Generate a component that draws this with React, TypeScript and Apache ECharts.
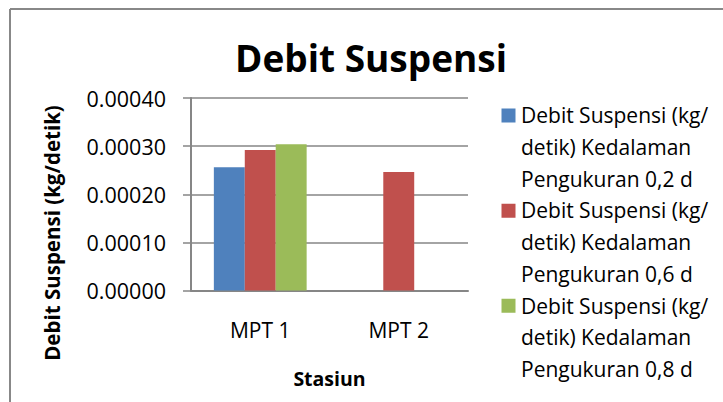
import React, { useEffect, useRef } from "react";
import * as echarts from "echarts";

const categories = ["MPT 1", "MPT 2"];
const seriesNames = [
  "Debit Suspensi (kg/detik) Kedalaman Pengukuran 0,2 d",
  "Debit Suspensi (kg/detik) Kedalaman Pengukuran 0,6 d",
  "Debit Suspensi (kg/detik) Kedalaman Pengukuran 0,8 d",
];
const legendLabels = [
  "Debit Suspensi (kg/\ndetik) Kedalaman\nPengukuran 0,2 d",
  "Debit Suspensi (kg/\ndetik) Kedalaman\nPengukuran 0,6 d",
  "Debit Suspensi (kg/\ndetik) Kedalaman\nPengukuran 0,8 d",
];
const values02 = [0.000256, null];
const values06 = [0.000292, 0.000246];
const values08 = [0.000304, null];
const seriesValues = [values02, values06, values08];
const colors = ["#4F81BD", "#C0504D", "#9BBB59"];
const yTicks = { min: 0, max: 0.0004, interval: 0.0001 };

const FONT = "Open Sans";

export default function App() {
  const ref = useRef<HTMLDivElement>(null);
  useEffect(() => {
    if (!ref.current) return;
    const chart = echarts.init(ref.current, null, { renderer: "svg" });
    const iconPath =
      "path://M0,0h0.01v0.01h-0.01z M0.5,9h14v14h-14z M0,94.99h0.01v0.01h-0.01z M14.99,0h0.01v0.01h-0.01z";
    chart.setOption({
      animation: false,
      textStyle: { fontFamily: FONT },
      grid: { left: 191, right: 255, top: 98, bottom: 111.5, containLabel: false },
      graphic: [
        { type: "line", shape: { x1: 10, y1: 9, x2: 723, y2: 9 }, style: { stroke: "#888888", lineWidth: 2 } },
        { type: "line", shape: { x1: 10, y1: 9, x2: 10, y2: 402 }, style: { stroke: "#888888", lineWidth: 2 } },
        {
          type: "text",
          x: 371,
          y: 57,
          style: {
            text: "Debit Suspensi",
            align: "center",
            verticalAlign: "middle",
            fontFamily: FONT,
            fontWeight: "bold",
            fontSize: 37,
            fill: "#000",
          },
        },
        {
          type: "text",
          x: 52,
          y: 233,
          rotation: Math.PI / 2,
          style: {
            text: "Debit Suspensi (kg/detik)",
            align: "center",
            verticalAlign: "middle",
            fontFamily: FONT,
            fontWeight: "bold",
            fontSize: 20.5,
            fill: "#000",
          },
        },
      ],
      legend: {
        orient: "vertical",
        left: 501,
        top: 99.5,
        padding: 0,
        itemGap: 0,
        itemWidth: 15,
        itemHeight: 95,
        icon: iconPath,
        selectedMode: false,
        data: seriesNames,
        formatter: (name: string) => legendLabels[seriesNames.indexOf(name)],
        textStyle: { fontFamily: FONT, fontSize: 21, lineHeight: 31.7, color: "#000" },
      },
      xAxis: {
        type: "category",
        data: categories,
        name: "Stasiun",
        nameLocation: "middle",
        nameGap: 78,
        nameTextStyle: { fontFamily: FONT, fontWeight: "bold", fontSize: 19.5, color: "#000" },
        axisLine: { lineStyle: { color: "#868686", width: 2 } },
        axisTick: { show: false },
        axisLabel: { margin: 29, fontFamily: FONT, fontSize: 21, color: "#000" },
      },
      yAxis: {
        type: "value",
        min: yTicks.min,
        max: yTicks.max,
        interval: yTicks.interval,
        axisLine: { show: true, lineStyle: { color: "#868686", width: 2 } },
        axisTick: { show: true, length: 8, lineStyle: { color: "#868686", width: 1.5 } },
        splitLine: { lineStyle: { color: "#868686", width: 1.5 } },
        axisLabel: {
          margin: 25,
          fontFamily: FONT,
          fontSize: 21.5,
          color: "#000",
          formatter: (v: number) => v.toFixed(5),
        },
      },
      series: seriesNames.map((name, i) => ({
        name,
        type: "bar",
        data: seriesValues[i],
        barGap: "0%",
        barCategoryGap: "33%",
        itemStyle: { color: colors[i] },
      })),
    });
    return () => chart.dispose();
  }, []);
  return (
    <div
      ref={ref}
      style={{ position: "absolute", left: 0, top: 0, width: 723, height: 402, background: "#fff" }}
    />
  );
}
